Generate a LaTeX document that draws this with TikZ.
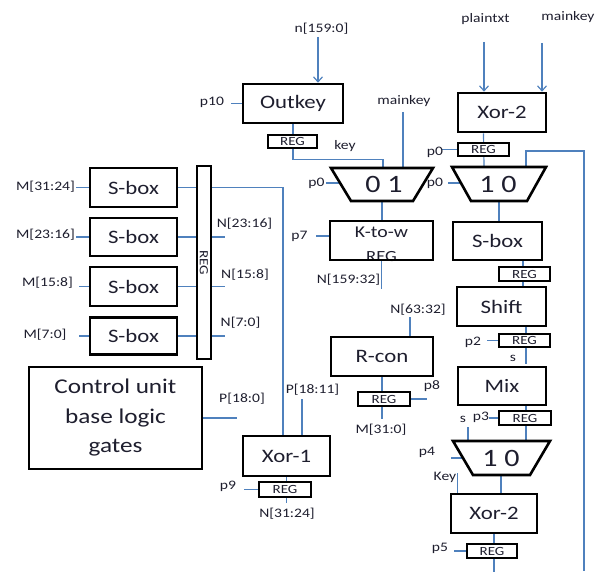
\documentclass[tikz,border=0pt]{standalone}
\usepackage{fontspec}
\setmainfont{Carlito}[FakeStretch=1.2]
\usetikzlibrary{arrows.meta,backgrounds}
\definecolor{wire}{HTML}{4F81BD}
\definecolor{ink}{HTML}{1E1E2E}
\begin{document}
\begin{tikzpicture}[x=1pt,y=-1pt,
  wire/.style={draw=wire,line width=1.2pt},
  arr/.style={wire,-{Straight Barb[length=5pt,width=9pt]}},
  blk/.style={draw=black,line width=2.6pt,inner sep=0pt,text=ink,font=\fontsize{19}{22}\selectfont},
  regbox/.style={draw=black,line width=2.2pt,fill=white,inner sep=0pt,text=ink,font=\fontsize{12.5}{13}\selectfont},
  lab/.style={inner sep=0pt,text=ink,font=\fontsize{13}{15}\selectfont},
  muxshape/.style={draw=black,line width=2.6pt,line join=miter},
  muxtext/.style={inner sep=0pt,text=ink,font=\fontsize{25}{28}\selectfont}]
\useasboundingbox (0,0) rectangle (601,571);

% ---------- main blocks ----------
\node[blk,minimum width=100pt,minimum height=39pt] (outkey) at (293,103.5) {Outkey};
\node[blk,minimum width=88pt,minimum height=39pt] (xora) at (502,112.5) {Xor-2};
\node[blk,minimum width=89pt,minimum height=38pt] (sboxr) at (497.5,241) {S-box};
\node[blk,minimum width=89pt,minimum height=39pt] (shift) at (501.5,306.5) {Shift};
\node[blk,minimum width=88pt,minimum height=38pt] (mix) at (502,386) {Mix};
\node[blk,minimum width=86pt,minimum height=39pt] (xorb) at (494,513.5) {Xor-2};
\node[blk,minimum width=87pt,minimum height=39pt] (sbox1) at (133.5,187.5) {S-box};
\node[blk,minimum width=87pt,minimum height=38pt] (sbox2) at (133.5,237) {S-box};
\node[blk,minimum width=87pt,minimum height=39pt] (sbox3) at (133.5,286.5) {S-box};
\node[blk,minimum width=87pt,minimum height=37pt] (sbox4) at (133.5,336) {S-box};
\node[blk,minimum width=173pt,minimum height=102pt,align=center,
      font=\fontsize{21}{29.5}\selectfont] (ctrl) at (115.5,418) {Control unit\\base logic\\gates};
\node[blk,minimum width=87pt,minimum height=40pt] (xor1) at (286.5,456) {Xor-1};
\node[blk,minimum width=102pt,minimum height=39pt] (rcon) at (382,356.5) {R-con};
\node[lab,font=\fontsize{16.5}{18}\selectfont] (ktowa) at (381.5,232) {K-to-w};
\node[lab,font=\fontsize{15.5}{18}\selectfont,anchor=base] (ktowb) at (381.5,261) {REG};
\node[blk,minimum width=103pt,minimum height=39pt] (ktow) at (381.5,240.5) {};

% ---------- registers ----------
\node[regbox,minimum width=49pt,minimum height=13pt] (regout) at (292.5,141.5) {REG};
\node[regbox,minimum width=51pt,minimum height=13pt] (regxa) at (483.5,149.5) {REG};
\node[regbox,minimum width=51pt,minimum height=14pt] (regsb) at (524.5,274) {REG};
\node[regbox,minimum width=51pt,minimum height=13pt] (regsh) at (524.5,340.5) {REG};
\node[regbox,minimum width=52pt,minimum height=14pt] (regmx) at (525,418) {REG};
\node[regbox,minimum width=50pt,minimum height=14pt] (regxb) at (492,551) {REG};
\node[regbox,minimum width=52pt,minimum height=15pt] (regx1) at (285,489.5) {REG};
\node[regbox,minimum width=52pt,minimum height=14pt] (regrc) at (384,399) {REG};
\node[regbox,minimum width=14pt,minimum height=193pt] (regv) at (204,262.5) {};
\node[regbox,draw=none,fill=none,rotate=-90] (regvt) at (204,262.5) {REG};

% ---------- multiplexers ----------
\draw[muxshape] (331,168) -- (433,168) -- (413,201) -- (351,201) -- cycle;
\node[muxtext] (m01) at (384,184) {0 1};
\coordinate (m01k) at (383,168);
\coordinate (m01m) at (403,168);
\coordinate (m01b) at (382,201);
\coordinate (m01l) at (340,183);

\draw[muxshape] (452,167) -- (546,167) -- (527,201) -- (471,201) -- cycle;
\node[muxtext] (m10a) at (498,184) {1 0};
\coordinate (m10ain) at (484,167);
\coordinate (m10afb) at (526,167);
\coordinate (m10al) at (461,183);
\coordinate (m10ab) at (499,201);
\coordinate (fbend) at (584,571);

\draw[muxshape] (453,441) -- (550,441) -- (530,475) -- (473,475) -- cycle;
\node[muxtext] (m10b) at (501,458) {1 0};
\coordinate (m10bs) at (468,441);
\coordinate (m10bin) at (526,441);
\coordinate (m10bl) at (463,458);
\coordinate (m10bb) at (501,475);

% ---------- labels ----------
\node[lab] (nin) at (321.5,29) {n[159:0]};
\node[lab] (p10) at (212,102) {p10};
\node[lab] (key) at (345,146) {key};
\node[lab] (mk1) at (404,101) {mainkey};
\node[lab] (ptxt) at (485.5,19) {plaintxt};
\node[lab] (mk2) at (568,17) {mainkey};
\node[lab] (p0a) at (435,152) {p0};
\node[lab] (p0b) at (435,183.5) {p0};
\node[lab] (p0c) at (316.5,183.5) {p0};
\node[lab] (p7) at (299.5,236) {p7};
\node[lab] (n15932) at (348.5,280) {N[159:32]};
\node[lab] (n6332) at (418,310) {N[63:32]};
\node[lab] (p8) at (432,386) {p8};
\node[lab] (m310) at (381,430) {M[31:0]};
\node[lab] (p2) at (473,342) {p2};
\node[lab] (s1) at (513,358) {s};
\node[lab] (p3) at (481,417) {p3};
\node[lab] (s2) at (463,419) {s};
\node[lab] (p4) at (427,452) {p4};
\node[lab] (keyb) at (445,477) {Key};
\node[lab] (p5) at (440,548) {p5};
\node[lab] (ma) at (45.5,187) {M[31:24]};
\node[lab] (mb) at (45.5,235) {M[23:16]};
\node[lab] (mc) at (47.5,283) {M[15:8]};
\node[lab] (md) at (45,335) {M[7:0]};
\node[lab] (nb) at (244.5,224) {N[23:16]};
\node[lab] (nc) at (245,275) {N[15:8]};
\node[lab] (nd) at (240.5,323) {N[7:0]};
\node[lab] (p180) at (242,399) {P[18:0]};
\node[lab] (p1811) at (312.5,390) {P[18:11]};
\node[lab] (p9) at (228,486) {p9};
\node[lab] (n3124) at (287,514) {N[31:24]};

% ---------- connectors ----------
\begin{scope}[on background layer]
\draw[arr] (nin.south) ++(-3.5,2) -- (outkey.north -| 318,0);
\draw[wire] (outkey.west) -- ++(-11,0);
\draw[wire] (outkey.south) -- ++(0,35) -| (m01k);
\draw[wire] (mk1.south) ++(-1,5) -- (m01m);
\draw[wire] (m01l) -- ++(-14,0);
\draw[wire] (m01b) -- (ktow.north -| m01b);
\draw[wire] (ktow.west |- p7) -- ++(-13,0);
\draw[wire] (ktow.south) -- ++(0,28);
\draw[wire] (rcon.north) ++(28,0) -- ++(0,-19);
\draw[wire] (rcon.south) -- ++(0,42);
\draw[wire] (regrc.east) -- ++(16,0);

\draw[arr] (m10ain |- ptxt.south) ++(0,17) -- (m10ain |- xora.north);
\draw[arr] (mk2.south) ++(-26,20) -- (xora.north -| 542,0);
\draw[wire] (regxa.center |- xora.south) -- (m10ain);
\draw[wire] (regxa.west) -- ++(-15,0);
\draw[wire] (m10al) -- ++(-13,0);
\draw[wire] (m10afb) |- (584,151) -- (fbend);
\draw[wire] (m10ab) -- (m10ab |- sboxr.north);
\draw[wire] (regsb.center |- sboxr.south) ++(-1.5,0) -- ++(0,27);
\draw[wire] (regsh.center |- shift.south) ++(1.5,0) -- ++(0,37);
\draw[wire] (regsh.west) -- ++(-11,0);
\draw[wire] (regmx.center |- mix.south) ++(1,0) -- (m10bin);
\draw[wire] (regmx.west) -- ++(-9,0);
\draw[wire] (m10bs) -- ++(0,-14);
\draw[wire] (m10bl) -- ++(-12,0);
\draw[wire] (m10bb) -- (m10bb |- xorb.north);
\draw[wire] (xorb.north west) ++(8,0) -- ++(0,-20);
\draw[wire] (xorb.south) -- ++(0,38);
\draw[wire] (regxb.west) -- ++(-12,0);

\draw[wire] (sbox1.west) -- ++(-13,0);
\draw[wire] (sbox2.west) -- ++(-13,0);
\draw[wire] (sbox3.west) -- ++(-10,0);
\draw[wire] (sbox4.west) -- ++(-10,0);
\draw[wire] (sbox1.east) -- (sbox1.east -| regv.west);
\draw[wire] (sbox2.east) -- (sbox2.east -| regv.west);
\draw[wire] (sbox3.east) -- (sbox3.east -| regv.west);
\draw[wire] (sbox4.east) -- (sbox4.east -| regv.west);
\draw[wire] (sbox1.east -| regv.east) -| ([xshift=-3.5pt]xor1.north);
\draw[wire] (sbox2.east -| regv.east) -- ++(13,0);
\draw[wire] (sbox3.east -| regv.east) -- ++(13,0);
\draw[wire] (sbox4.east -| regv.east) -- ++(13,0);
\draw[wire] (ctrl.east) -- ++(34,0);
\draw[wire] ([xshift=15.5pt]xor1.north) -- ++(0,-36);
\draw[wire] (xor1.south) -- ++(0,26);
\draw[wire] (regx1.west) -- ++(-14,0);
\end{scope}
\end{tikzpicture}
\end{document}
